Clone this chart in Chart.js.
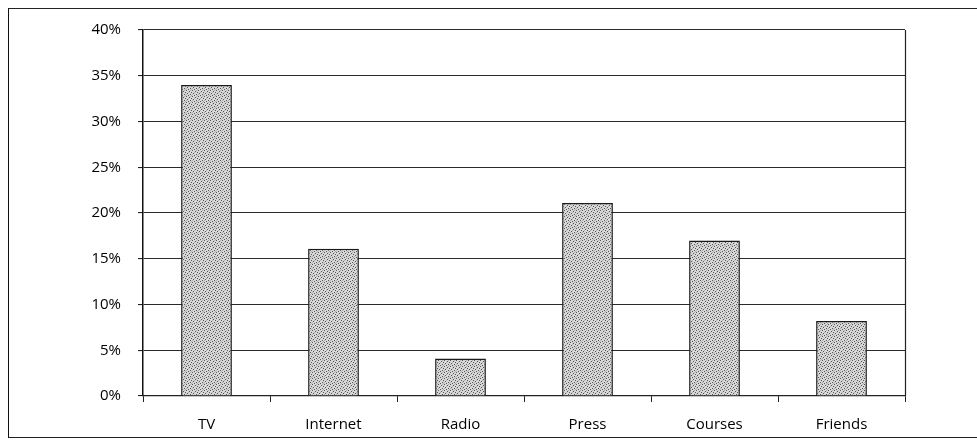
<!DOCTYPE html>
<html>
<head>
<meta charset="utf-8">
<script src="https://cdn.jsdelivr.net/npm/chart.js@4/dist/chart.umd.min.js"></script>
<style>
  html, body { margin: 0; padding: 0; background: #fff; }
  body { width: 977px; height: 441px; position: relative; overflow: hidden; }
  #frame {
    position: absolute; left: 8px; top: 8px; width: 1000px; height: 428px;
    border-left: 1.5px solid #111; border-top: 1.5px solid #222; border-bottom: 1.5px solid #222;
  }
  #wrap { position: absolute; left: 0; top: 0; width: 977px; height: 441px; }
</style>
</head>
<body>
<div id="frame"></div>
<div id="wrap"><canvas id="chart" width="977" height="441"></canvas></div>
<script>
// Share of respondents by information source
const categories = ['TV', 'Internet', 'Radio', 'Press', 'Courses', 'Friends'];
const shares = [34.0, 16.1, 4.1, 21.1, 17.0, 8.2];
const yTicks = [0, 5, 10, 15, 20, 25, 30, 35, 40];

// Stippled grey fill for the bars
function stipple() {
  const c = document.createElement('canvas');
  c.width = 6; c.height = 6;
  const g = c.getContext('2d');
  g.fillStyle = '#d8d8d8';
  g.fillRect(0, 0, 6, 6);
  g.fillStyle = '#555';
  const dots = [[0,0],[3,1],[1,3],[4,4],[2,5],[5,2]];
  dots.forEach(([x, y]) => g.fillRect(x, y, 1, 1));
  g.fillStyle = '#b0b0b0';
  [[2,2],[5,5],[0,4],[4,0]].forEach(([x, y]) => g.fillRect(x, y, 1, 1));
  return g.createPattern(c, 'repeat');
}

// Closes the plot box on its right side
const rightEdge = {
  id: 'rightEdge',
  afterDraw(chart) {
    const { ctx, chartArea: a } = chart;
    ctx.save();
    ctx.strokeStyle = '#222';
    ctx.lineWidth = 1.2;
    ctx.beginPath();
    ctx.moveTo(a.right + 0.5, a.top);
    ctx.lineTo(a.right + 0.5, a.bottom);
    ctx.stroke();
    ctx.restore();
  }
};

const ctx = document.getElementById('chart').getContext('2d');
new Chart(ctx, {
  type: 'bar',
  data: {
    labels: categories,
    datasets: [{
      data: shares,
      backgroundColor: stipple(),
      borderColor: '#1a1a1a',
      borderWidth: 1.5,
      categoryPercentage: 1,
      barPercentage: 0.40
    }]
  },
  options: {
    responsive: false,
    animation: false,
    layout: { padding: { left: 0, right: 72, top: 30, bottom: 0 } },
    plugins: { legend: { display: false }, tooltip: { enabled: false } },
    scales: {
      x: {
        offset: true,
        grid: {
          display: true,
          drawOnChartArea: false,
          drawTicks: true,
          tickLength: 6,
          tickColor: '#222',
          offset: true
        },
        border: { display: true, color: '#222', width: 1.2 },
        ticks: {
          color: '#000',
          padding: 14,
          font: { family: 'Open Sans', size: 15 }
        },
        afterFit(scale) { scale.height = 45; }
      },
      y: {
        min: 0,
        max: 40,
        afterBuildTicks(scale) { scale.ticks = yTicks.map(v => ({ value: v })); },
        grid: {
          color: '#2a2a2a',
          lineWidth: 1.1,
          tickLength: 5,
          tickColor: '#222'
        },
        border: { display: true, color: '#111', width: 1.5 },
        ticks: {
          color: '#000',
          padding: 17,
          font: { family: 'Open Sans', size: 15 },
          callback: v => v + '%'
        },
        afterFit(scale) { scale.width = 143; }
      }
    }
  },
  plugins: [rightEdge]
});
</script>
</body>
</html>
